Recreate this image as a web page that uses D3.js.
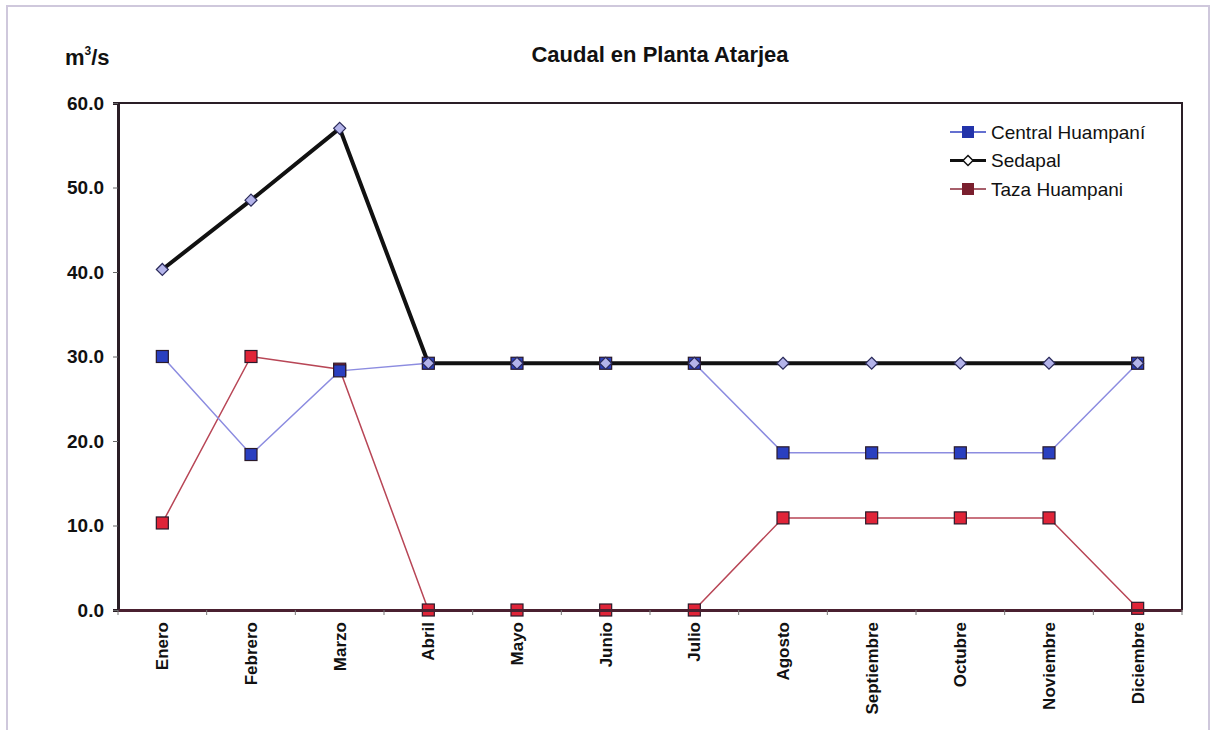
<!DOCTYPE html>
<head>
  <meta charset="utf-8">
  <script src="https://d3js.org/d3.v7.min.js"></script>
  <style>
    body { margin: 0; background: #fff; }
    svg text { font-family: Arial, "Liberation Sans", Helvetica, sans-serif; fill: #111; }
    .tick text { font-weight: bold; }
  </style>
</head>
<body>
<div id="chart"></div>
<script>
// data
var months = ["Enero","Febrero","Marzo","Abril","Mayo","Junio","Julio","Agosto","Septiembre","Octubre","Noviembre","Diciembre"];
var centralHuampani = [30.0, 18.4, 28.3, 29.2, 29.2, 29.2, 29.2, 18.6, 18.6, 18.6, 18.6, 29.2];
var sedapal = [40.3, 48.5, 57.0, 29.2, 29.2, 29.2, 29.2, 29.2, 29.2, 29.2, 29.2, 29.2];
var tazaHuampani = [10.3, 30.0, 28.5, 0.0, 0.0, 0.0, 0.0, 10.9, 10.9, 10.9, 10.9, 0.2];
var yTicks = [0, 10, 20, 30, 40, 50, 60];

var W = 1212, H = 730;
var margin = {top: 103, right: 30, bottom: 120, left: 118};
var width = W - margin.left - margin.right,
    height = H - margin.top - margin.bottom;

var svg = d3.select("#chart").append("svg")
    .attr("width", W)
    .attr("height", H);

// outer frame
svg.append("rect")
    .attr("x", 7).attr("y", 6)
    .attr("width", 1202).attr("height", 740)
    .attr("fill", "none")
    .attr("stroke", "#cfc8dc")
    .attr("stroke-width", 2);

svg.append("text")
    .attr("x", 660).attr("y", 62)
    .attr("text-anchor", "middle")
    .style("font-size", "22px").style("font-weight", "bold")
    .text("Caudal en Planta Atarjea");

var unit = svg.append("text")
    .attr("x", 65).attr("y", 65)
    .style("font-size", "22px").style("font-weight", "bold");
unit.append("tspan").text("m");
unit.append("tspan").attr("dy", -10).style("font-size", "12px").text("3");
unit.append("tspan").attr("dy", 10).text("/s");

var g = svg.append("g")
    .attr("transform", `translate(${margin.left},${margin.top})`);

var x = d3.scaleBand().domain(months).range([0, width]).padding(0);
var y = d3.scaleLinear().domain([0, 60]).range([height, 0]);
var cx = function(d, i) { return x(months[i]) + x.bandwidth() / 2; };

// plot frame (top and right)
g.append("path")
    .attr("d", `M0,0H${width}V${height}`)
    .attr("fill", "none")
    .attr("stroke", "#2a1e26")
    .attr("stroke-width", 2);

// y axis
var yAxis = g.append("g")
    .call(d3.axisLeft(y).tickValues(yTicks).tickFormat(d3.format(".1f")).tickSize(5).tickPadding(9));
yAxis.select(".domain").attr("stroke", "#2a1e26").attr("stroke-width", 3);
yAxis.selectAll(".tick line").attr("stroke", "#666");
yAxis.selectAll(".tick text").style("font-size", "19px").attr("fill", "#111");

var line = d3.line().x(cx).y(function(d) { return y(d); });

// Taza Huampani
g.append("path").datum(tazaHuampani)
    .attr("fill", "none").attr("stroke", "#b84656").attr("stroke-width", 1.5)
    .attr("d", line);
// Central Huampaní
g.append("path").datum(centralHuampani)
    .attr("fill", "none").attr("stroke", "#8c8ce0").attr("stroke-width", 1.5)
    .attr("d", line);
// Sedapal
g.append("path").datum(sedapal)
    .attr("fill", "none").attr("stroke", "#111").attr("stroke-width", 4)
    .attr("d", line);

function squares(data, fill) {
  g.append("g").selectAll("rect")
    .data(data).join("rect")
    .attr("x", function(d, i) { return cx(d, i) - 6; })
    .attr("y", function(d) { return y(d) - 6; })
    .attr("width", 12).attr("height", 12)
    .attr("fill", fill).attr("stroke", "#2a1a2a").attr("stroke-width", 1.2);
}
squares(tazaHuampani, "#e02438");
squares(centralHuampani, "#2a3fc0");

g.append("g").selectAll("path")
    .data(sedapal).join("path")
    .attr("transform", function(d, i) { return `translate(${cx(d, i)},${y(d)})`; })
    .attr("d", "M0,-6L6,0L0,6L-6,0Z")
    .attr("fill", "#b4b4ea").attr("stroke", "#2a2a5a").attr("stroke-width", 1.2);

// x axis: ticks on category boundaries (drawn over the zero markers)
var xAxis = g.append("g")
    .attr("transform", `translate(0,${height})`)
    .call(d3.axisBottom(x).tickSize(0).tickSizeOuter(0));
xAxis.select(".domain").attr("stroke", "#4a2030").attr("stroke-width", 3);
xAxis.selectAll(".tick text")
    .attr("transform", "rotate(-90)")
    .attr("text-anchor", "end")
    .attr("x", -12).attr("y", 0).attr("dy", "0.35em")
    .style("font-size", "17px");
g.append("g").selectAll("line")
    .data(d3.range(months.length + 1))
    .join("line")
    .attr("x1", function(i) { return i * x.step(); })
    .attr("x2", function(i) { return i * x.step(); })
    .attr("y1", height).attr("y2", height + 5)
    .attr("stroke", "#777");

// legend
var legend = [
  {name: "Central Huampaní", line: "#3040c0", lw: 1.5, marker: "square", fill: "#2233aa"},
  {name: "Sedapal", line: "#111", lw: 3, marker: "diamond", fill: "#fff"},
  {name: "Taza Huampani", line: "#8a2a3a", lw: 1.5, marker: "square", fill: "#7a1f2e"}
];
var lg = svg.append("g");
legend.forEach(function(s, i) {
  var ly = 132 + i * 28.5;
  lg.append("line").attr("x1", 950).attr("x2", 986).attr("y1", ly).attr("y2", ly)
    .attr("stroke", s.line).attr("stroke-width", s.lw);
  if (s.marker === "square") {
    lg.append("rect").attr("x", 962).attr("y", ly - 6).attr("width", 12).attr("height", 12)
      .attr("fill", s.fill);
  } else {
    lg.append("path").attr("transform", `translate(968,${ly})`).attr("d", "M0,-5L5,0L0,5L-5,0Z")
      .attr("fill", s.fill).attr("stroke", "#111").attr("stroke-width", 1.5);
  }
  lg.append("text").attr("x", 991).attr("y", ly).attr("dy", "0.35em")
    .style("font-size", "19px").text(s.name);
});
</script>
</body>
